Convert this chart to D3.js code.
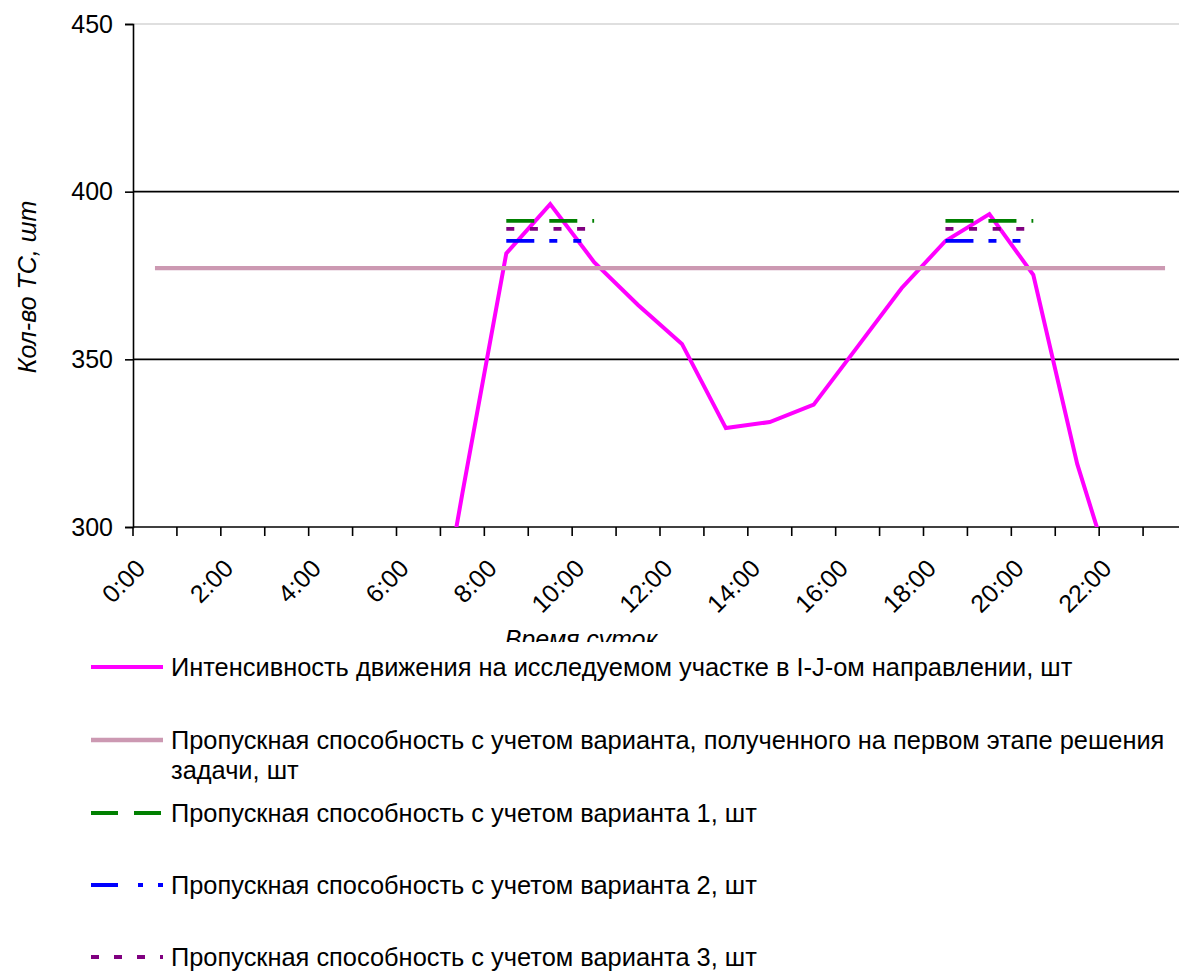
<!DOCTYPE html>
<html>
<head>
<meta charset="utf-8">
<script src="https://cdn.jsdelivr.net/npm/d3@7/dist/d3.min.js"></script>
<style>
  html, body { margin: 0; padding: 0; background: #fff; }
  svg { display: block; font-family: "Liberation Sans", Arial, sans-serif; }
</style>
</head>
<body>
<svg id="chart" width="1179" height="971"></svg>
<script>
// Hour categories along the x axis
const hours = ["0:00","1:00","2:00","3:00","4:00","5:00","6:00","7:00","8:00","9:00","10:00","11:00",
               "12:00","13:00","14:00","15:00","16:00","17:00","18:00","19:00","20:00","21:00","22:00","23:00"];
// Labelled categories (every second hour)
const tickLabels = ["0:00","2:00","4:00","6:00","8:00","10:00","12:00","14:00","16:00","18:00","20:00","22:00"];
const yTicks = [300, 350, 400, 450];

// Traffic intensity on the studied section, I-J direction
const intensity = [40, 25, 20, 25, 60, 130, 236, 310, 381.6, 396.3, 379, 366.2,
                   354.6, 329.5, 331.3, 336.5, 353.8, 371.2, 385.3, 393.3, 375.2, 318.8, 276.7, 220];
// Capacity for the first-stage variant
const capacityBase = [377.2, 377.2, 377.2, 377.2, 377.2, 377.2, 377.2, 377.2, 377.2, 377.2, 377.2, 377.2,
                      377.2, 377.2, 377.2, 377.2, 377.2, 377.2, 377.2, 377.2, 377.2, 377.2, 377.2, 377.2];
// Capacity for variants 1, 2, 3 (peak hours only)
const capacityV1 = [null, null, null, null, null, null, null, null, 391.3, 391.3, 391.3, null,
                    null, null, null, null, null, null, 391.3, 391.3, 391.3, null, null, null];
const capacityV2 = [null, null, null, null, null, null, null, null, 385.3, 385.3, 385.3, null,
                    null, null, null, null, null, null, 385.3, 385.3, 385.3, null, null, null];
const capacityV3 = [null, null, null, null, null, null, null, null, 388.9, 388.9, 388.9, null,
                    null, null, null, null, null, null, 388.9, 388.9, 388.9, null, null, null];

const seriesNames = [
  ["Интенсивность движения на исследуемом участке в I-J-ом направлении, шт"],
  ["Пропускная способность с учетом варианта, полученного на первом этапе решения", "задачи, шт"],
  ["Пропускная способность с учетом варианта 1, шт"],
  ["Пропускная способность с учетом варианта 2, шт"],
  ["Пропускная способность с учетом варианта 3, шт"]
];

const styles = [
  { color: "#ff00ff", width: 4, dash: null, legendDash: null },
  { color: "#cc99b2", width: 4.4, dash: null, legendDash: null },
  { color: "#008000", width: 3.8, dash: "28,15", legendDash: "27,16" },
  { color: "#0000ff", width: 3.8, dash: "28,15,8,16,8,16", legendDash: "27,20,5,15,5,15" },
  { color: "#800080", width: 3.8, dash: "8,15.6", legendDash: "8,15" }
];
const allSeries = [intensity, capacityBase, capacityV1, capacityV2, capacityV3];

const FS = 25;
const LFS = 25.4;
const svg = d3.select("#chart");
const plot = { left: 133, top: 24, right: 1187, bottom: 527 };

const x = d3.scaleBand().domain(hours).range([plot.left, plot.right]).padding(0);
const y = d3.scaleLinear().domain([300, 450]).range([plot.bottom, plot.top]);
const cx = h => x(h) + x.bandwidth() / 2;

svg.append("defs").append("clipPath").attr("id", "plotClip")
  .append("rect").attr("x", plot.left).attr("y", plot.top)
  .attr("width", plot.right - plot.left).attr("height", plot.bottom - plot.top);
svg.select("defs").append("clipPath").attr("id", "titleClip")
  .append("rect").attr("x", 0).attr("y", 540).attr("width", 1179).attr("height", 102);

// Horizontal gridlines
svg.append("g").selectAll("line").data(yTicks.filter(v => v > 300)).join("line")
  .attr("x1", plot.left).attr("x2", plot.right)
  .attr("y1", d => y(d)).attr("y2", d => y(d))
  .attr("stroke", d => d === 450 ? "#d4d4d4" : "#000")
  .attr("stroke-width", 1.6);

// Y axis
const yAxis = d3.axisLeft(y).tickValues(yTicks).tickSize(8).tickPadding(12).tickFormat(d3.format("d"));
const gy = svg.append("g").attr("transform", `translate(${plot.left},0)`).call(yAxis);
gy.select(".domain").attr("stroke", "#000").attr("stroke-width", 1.6);
gy.selectAll(".tick line").attr("stroke", "#000").attr("stroke-width", 1.6);
gy.selectAll(".tick text").attr("font-size", FS).attr("fill", "#000").attr("font-family", "Liberation Sans, Arial");

// X axis: ticks on category boundaries, labels at category centres
const gx = svg.append("g").attr("transform", `translate(0,${plot.bottom})`);
gx.append("line").attr("x1", plot.left).attr("x2", plot.right).attr("stroke", "#000").attr("stroke-width", 1.6);
gx.selectAll("line.tk").data(hours).join("line").attr("class", "tk")
  .attr("x1", d => x(d)).attr("x2", d => x(d)).attr("y1", 0).attr("y2", 9)
  .attr("stroke", "#000").attr("stroke-width", 1.6);
gx.selectAll("text").data(tickLabels).join("text")
  .attr("transform", d => `translate(${cx(d) - 8},${43}) rotate(-45)`)
  .attr("text-anchor", "end")
  .attr("font-size", FS).attr("fill", "#000")
  .text(d => d);

// Axis titles
svg.append("text")
  .attr("transform", "translate(36,287) rotate(-90)")
  .attr("text-anchor", "middle").attr("font-size", FS).attr("font-style", "italic")
  .text("Кол-во ТС, шт");
svg.append("text")
  .attr("clip-path", "url(#titleClip)")
  .attr("x", 581).attr("y", 648)
  .attr("text-anchor", "middle").attr("font-size", FS).attr("font-style", "italic")
  .text("Время суток");

// Series lines
const gLines = svg.append("g").attr("clip-path", "url(#plotClip)");
const line = d3.line()
  .defined(d => d.v !== null)
  .x(d => cx(d.h))
  .y(d => y(d.v));
allSeries.forEach((vals, i) => {
  const st = styles[i];
  gLines.append("path")
    .datum(hours.map((h, k) => ({ h, v: vals[k] })))
    .attr("d", line)
    .attr("fill", "none")
    .attr("stroke", st.color)
    .attr("stroke-width", st.width)
    .attr("stroke-linejoin", "miter")
    .attr("stroke-dasharray", st.dash);
});

// Legend
const legendRows = [667, 740, 813, 885, 957];
const lg = svg.append("g");
seriesNames.forEach((lines, i) => {
  const st = styles[i];
  const yy = legendRows[i];
  lg.append("line")
    .attr("x1", 91).attr("x2", 163).attr("y1", yy).attr("y2", yy)
    .attr("stroke", st.color).attr("stroke-width", st.width)
    .attr("stroke-dasharray", st.legendDash);
  const t = lg.append("text").attr("x", 171).attr("y", yy + 9).attr("font-size", LFS).attr("fill", "#000");
  lines.forEach((s, j) => {
    t.append("tspan").attr("x", 171).attr("dy", j === 0 ? 0 : 30).text(s);
  });
});
</script>
</body>
</html>
